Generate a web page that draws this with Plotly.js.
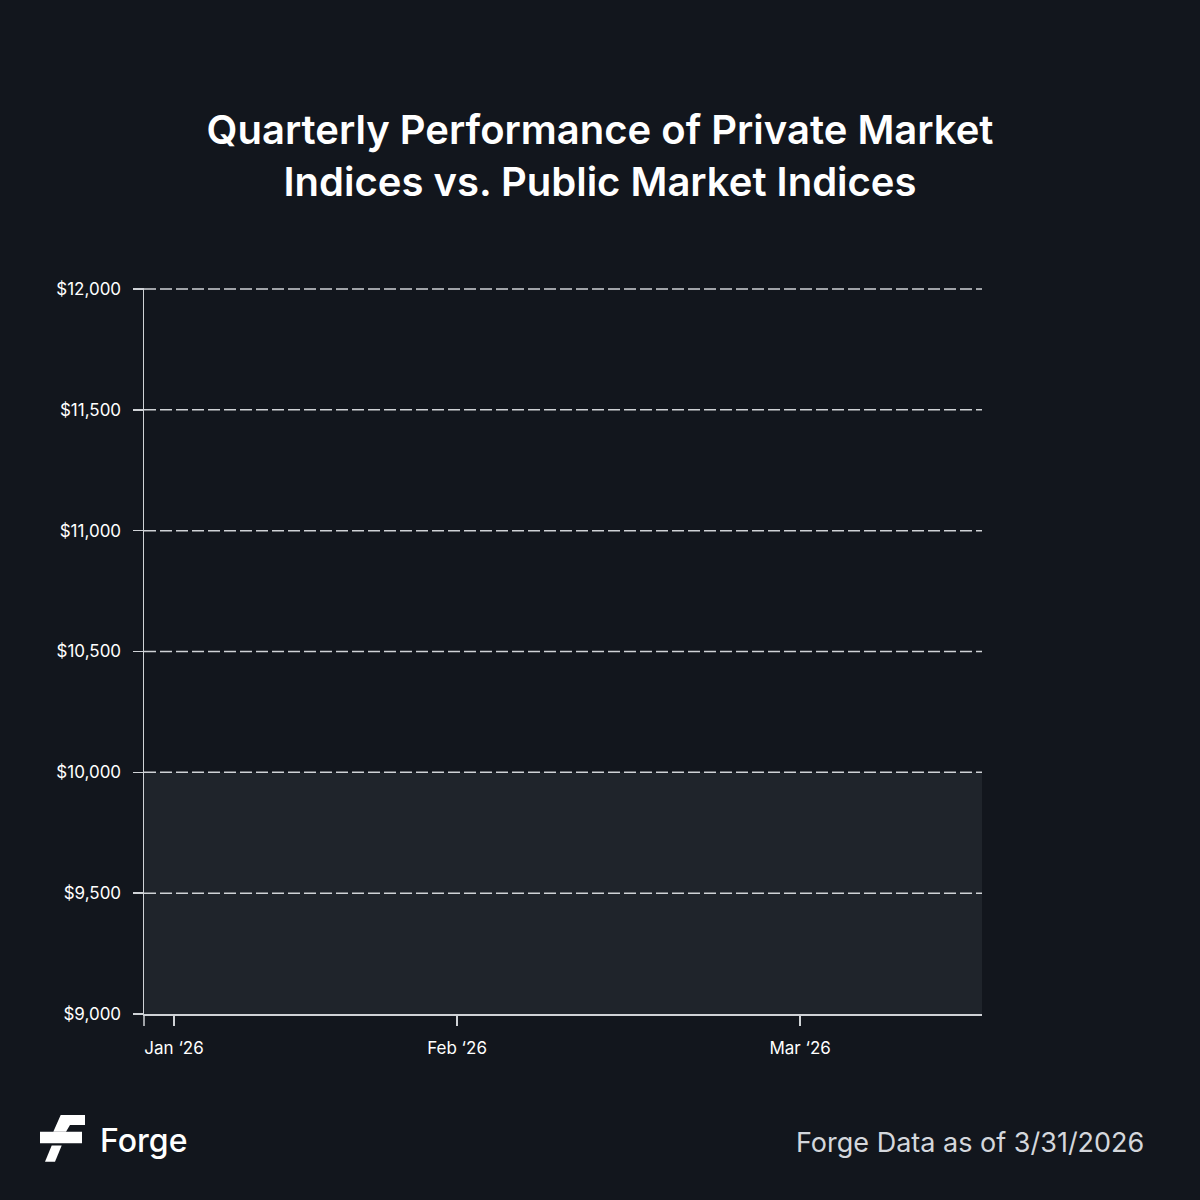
<!DOCTYPE html>
<html>
<head>
<meta charset="utf-8">
<script src="https://cdn.plot.ly/plotly-3.0.1.min.js"></script>
<style>
  html, body { margin: 0; padding: 0; background: #12161d; }
  #chart { width: 1200px; height: 1200px; }
</style>
</head>
<body>
<div id="chart"></div>
<script>
// ---- data ----
const dates = ["2025-12-28 17:00", "2026-03-30 12:00"];
const startValue = [10000, 10000];
const tickDates = ["2026-01-01", "2026-02-01", "2026-03-10 14:00"];
const tickLabels = ["Jan \u201826", "Feb \u201826", "Mar \u201826"];
const yTicks = [9000, 9500, 10000, 10500, 11000, 11500, 12000];
const yTickLabels = ["$9,000", "$9,500", "$10,000", "$10,500", "$11,000", "$11,500", "$12,000"];

// ---- layout helpers (page px -> paper) ----
const W = 1200, H = 1200;
const M = { l: 144, r: 218, t: 288, b: 186 };
const pw = W - M.l - M.r, ph = H - M.t - M.b;
const px = x => (x - M.l) / pw;
const py = y => (H - M.b - y) / ph;

const BG = "#12161d";
const GRID = "#cfd2d6";
const FONT = "Inter, 'Noto Sans', sans-serif";

const logoSvg = '<svg xmlns="http://www.w3.org/2000/svg" viewBox="40 1115 45 47" width="45" height="47">' +
  '<path fill="#ffffff" d="M60.7 1115 L85 1115 L85 1125 L70 1125 L66 1131.7 L53.3 1131.7 Z"/>' +
  '<path fill="#ffffff" d="M40 1131.7 L82 1131.7 L82 1143.3 L40 1143.3 Z"/>' +
  '<path fill="#ffffff" d="M51.7 1145.5 L61.7 1145.5 L55 1161.7 L45 1161.7 Z"/>' +
  '</svg>';

const traces = [{
  x: dates,
  y: startValue,
  type: "scatter",
  mode: "lines",
  line: { width: 0, color: "rgba(0,0,0,0)" },
  fill: "tozeroy",
  fillcolor: "#1f242b",
  hoverinfo: "skip",
  showlegend: false
}];

// dashed gridlines drawn above the area fill, following the y scale
const gridShapes = yTicks.filter(v => v !== 9000).map(v => ({
  type: "line", xref: "paper", yref: "y",
  x0: 0, x1: 1, y0: v, y1: v,
  layer: "above",
  line: { color: GRID, width: 1.5, dash: "12px,4px" }
}));

const layout = {
  width: W, height: H,
  paper_bgcolor: BG,
  plot_bgcolor: BG,
  margin: M,
  showlegend: false,
  title: {
    text: "Quarterly Performance of Private Market<br>Indices vs. Public Market Indices",
    font: { family: FONT, size: 40, color: "#ffffff", weight: 600 },
    x: 0.5, xref: "container", xanchor: "center",
    y: 1 - 144 / H, yref: "container", yanchor: "top"
  },
  xaxis: {
    type: "date",
    range: dates,
    tickvals: tickDates,
    ticktext: tickLabels,
    showgrid: false,
    zeroline: false,
    showline: true,
    linecolor: GRID,
    linewidth: 1.5,
    ticks: "outside",
    ticklen: 10,
    tickwidth: 1.5,
    tickcolor: GRID,
    ticklabelstandoff: 8,
    tickfont: { family: FONT, size: 17, color: "#ffffff" },
    fixedrange: true
  },
  yaxis: {
    range: [9000, 12004],
    tickvals: yTicks,
    ticktext: yTickLabels,
    showgrid: false,
    zeroline: false,
    showline: true,
    linecolor: GRID,
    linewidth: 1.5,
    ticks: "outside",
    ticklen: 10,
    tickwidth: 1.5,
    tickcolor: GRID,
    ticklabelstandoff: 8,
    tickfont: { family: FONT, size: 17, color: "#ffffff" },
    fixedrange: true
  },
  shapes: gridShapes.concat([{
    type: "line", xref: "paper", yref: "paper",
    x0: 0, x1: 0, y0: 0, y1: py(1026),
    line: { color: GRID, width: 1.5 }
  }]),
  images: [{
    source: "data:image/svg+xml;charset=utf-8," + encodeURIComponent(logoSvg),
    xref: "paper", yref: "paper",
    x: px(40), y: py(1115),
    sizex: 45 / pw, sizey: 47 / ph,
    xanchor: "left", yanchor: "top",
    sizing: "stretch", layer: "above"
  }],
  annotations: [
    {
      text: "Forge", xref: "paper", yref: "paper",
      x: px(98), y: py(1140), xanchor: "left", yanchor: "middle",
      showarrow: false,
      font: { family: FONT, size: 32, color: "#ffffff", weight: 500 }
    },
    {
      text: "Forge Data as of 3/31/2026", xref: "paper", yref: "paper",
      x: px(1146), y: py(1142), xanchor: "right", yanchor: "middle",
      showarrow: false,
      font: { family: FONT, size: 27, color: "#d4d7dc" }
    }
  ]
};

Plotly.newPlot("chart", traces, layout, { displayModeBar: false, staticPlot: true });
</script>
</body>
</html>
